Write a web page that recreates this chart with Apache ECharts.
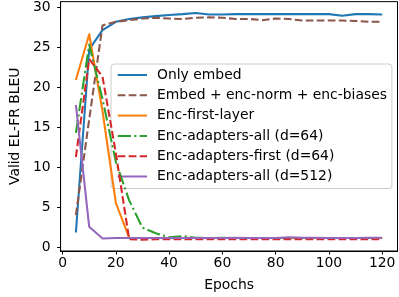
<!DOCTYPE html>
<html>
<head>
<meta charset="utf-8">
<script src="https://cdn.jsdelivr.net/npm/echarts@6/dist/echarts.min.js"></script>
<style>
html,body{margin:0;padding:0;background:#fff;}
#c{width:399px;height:297px;}
</style>
</head>
<body>
<div id="c"></div>
<script>
var epochs = [5,10,15,20,25,30,35,40,45,50,55,60,65,70,75,80,85,90,95,100,105,110,115,120];
var onlyEmbed = [1.9,24.7,27.1,28.15,28.5,28.7,28.85,29.0,29.1,29.25,29.05,29.05,29.1,29.1,29.1,29.1,29.1,29.1,29.1,29.1,28.9,29.1,29.1,29.05];
var embedNormBias = [4.05,16.0,27.7,28.15,28.35,28.55,28.65,28.55,28.5,28.65,28.7,28.65,28.5,28.5,28.35,28.55,28.5,28.3,28.3,28.3,28.3,28.25,28.15,28.15];
var encFirstLayer = [20.9,26.6,17.0,5.6,1.25,1.2,1.2,1.2,1.2,1.2,1.2,1.2,1.2,1.2,1.2,1.2,1.2,1.2,1.2,1.2,1.2,1.2,1.2,1.2];
var encAdaptersAll64 = [14.3,25.3,18.5,10.7,5.9,2.5,1.8,1.3,1.45,1.25,1.2,1.25,1.2,1.2,1.2,1.2,1.2,1.2,1.2,1.2,1.2,1.2,1.2,1.2];
var encAdaptersFirst64 = [11.3,23.5,21.3,11.8,1.05,1.0,1.05,1.05,1.05,1.05,1.05,1.05,1.05,1.05,1.05,1.05,1.05,1.05,1.05,1.05,1.05,1.05,1.05,1.05];
var encAdaptersAll512 = [17.8,2.6,1.15,1.2,1.2,1.2,1.2,1.2,1.2,1.2,1.2,1.2,1.25,1.2,1.2,1.2,1.3,1.25,1.25,1.2,1.2,1.2,1.25,1.25];
var xTicks = [0,20,40,60,80,100,120];
var yTicks = [0,5,10,15,20,25,30];
var names = ['Only embed','Embed + enc-norm + enc-biases','Enc-first-layer','Enc-adapters-all (d=64)','Enc-adapters-first (d=64)','Enc-adapters-all (d=512)'];

function pairs(v){ return epochs.map(function(e,i){ return [e, v[i]]; }); }

var FONT = 'DejaVu Sans';
var LW = 2.08;
var specs = [
  {d: onlyEmbed, c: '#1f77b4', t: 'solid'},
  {d: embedNormBias, c: '#8c564b', t: [7.7, 3.3]},
  {d: encFirstLayer, c: '#ff7f0e', t: 'solid'},
  {d: encAdaptersAll64, c: '#2ca02c', t: [13.3, 3.3, 2.1, 3.3]},
  {d: encAdaptersFirst64, c: '#d62728', t: [7.7, 3.3]},
  {d: encAdaptersAll512, c: '#9467bd', t: 'solid'}
];

var series = specs.map(function(s, i){
  return {
    name: names[i], type: 'line', data: pairs(s.d), symbol: 'none', showSymbol: false,
    lineStyle: {color: s.c, width: LW, type: s.t, cap: 'butt', join: 'round'},
    itemStyle: {color: s.c}, z: 2 + i
  };
});

var chart = echarts.init(document.getElementById('c'), null, {renderer: 'canvas'});
chart.setOption({
  animation: false,
  backgroundColor: '#ffffff',
  grid: {left: 46.5, right: 1.5, top: 0.6, bottom: 42.5, show: true, borderColor: '#000', borderWidth: 1, backgroundColor: '#fff', containLabel: false},
  xAxis: {
    type: 'value', min: -0.75, max: 125.75,
    name: 'Epochs', nameLocation: 'middle', nameGap: 27,
    nameTextStyle: {fontFamily: FONT, fontSize: 13.9, color: '#000'},
    axisLine: {show: true, onZero: false, lineStyle: {color: '#000', width: 1}},
    axisTick: {show: true, inside: false, length: 3.5, customValues: xTicks, lineStyle: {color: '#000', width: 1}},
    axisLabel: {customValues: xTicks, margin: 5, fontFamily: FONT, fontSize: 13.9, color: '#000'},
    splitLine: {show: false}
  },
  yAxis: {
    type: 'value', min: -0.41, max: 30.66,
    name: 'Valid EL-FR BLEU', nameLocation: 'middle', nameGap: 28, nameRotate: 90,
    nameTextStyle: {fontFamily: FONT, fontSize: 13.9, color: '#000'},
    axisLine: {show: true, onZero: false, lineStyle: {color: '#000', width: 1}},
    axisTick: {show: true, inside: false, length: 3.5, customValues: yTicks, lineStyle: {color: '#000', width: 1}},
    axisLabel: {customValues: yTicks, margin: 10, fontFamily: FONT, fontSize: 13.9, color: '#000'},
    splitLine: {show: false}
  },
  legend: {
    data: names, orient: 'vertical', left: 111, top: 64,
    padding: [4, 5, 5, 5.7],
    itemWidth: 29.3, itemHeight: 14, itemGap: 6.3,
    itemStyle: {opacity: 0, borderWidth: 0},
    backgroundColor: 'rgba(255,255,255,0.8)', borderColor: '#cccccc', borderWidth: 1, borderRadius: 3,
    textStyle: {fontFamily: FONT, fontSize: 13.9, color: '#000', lineHeight: 14, padding: [0, 0, 0, 5]},
    selectedMode: false
  },
  series: series
});
</script>
</body>
</html>
